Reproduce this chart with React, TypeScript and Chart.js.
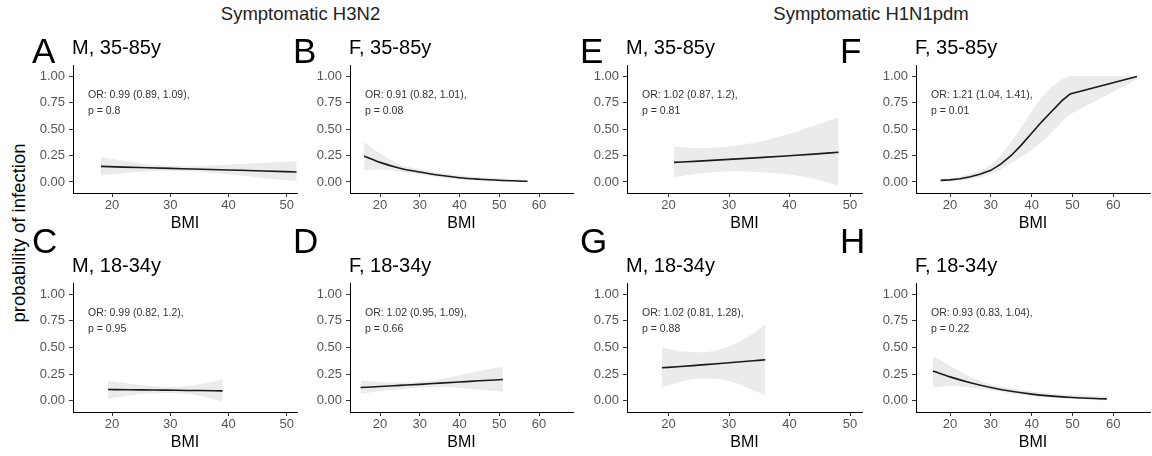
import React, { useEffect, useRef } from 'react';
import { Chart, registerables } from 'chart.js';

Chart.register(...registerables);

const FONT = '"Liberation Sans", Arial, Helvetica, sans-serif';

// ---- tick labels ----
const yTicks = [0, 0.25, 0.5, 0.75, 1];
const xTicksMale = [20, 30, 40, 50];
const xTicksFemale = [20, 30, 40, 50, 60];

// ---- Panel A: H3N2, M, 35-85y ----
const aBmi = [18.1, 22, 26, 30, 34, 40, 46, 51.7];
const aFit = [0.147, 0.14, 0.134, 0.128, 0.122, 0.113, 0.104, 0.094];
const aLow = [0.06, 0.085, 0.1, 0.107, 0.1, 0.072, 0.038, 0.006];
const aHigh = [0.235, 0.2, 0.17, 0.152, 0.148, 0.165, 0.182, 0.195];

// ---- Panel B: H3N2, F, 35-85y ----
const bBmi = [16, 20, 25, 30, 35, 40, 45, 50, 57.1];
const bFit = [0.245, 0.185, 0.13, 0.094, 0.063, 0.04, 0.026, 0.016, 0.007];
const bLow = [0.11, 0.12, 0.1, 0.07, 0.045, 0.024, 0.011, 0.004, 0.0];
const bHigh = [0.38, 0.27, 0.165, 0.12, 0.085, 0.062, 0.046, 0.033, 0.022];

// ---- Panel C: H3N2, M, 18-34y ----
const cBmi = [19.3, 23, 27, 31, 35, 39];
const cFit = [0.107, 0.104, 0.102, 0.099, 0.097, 0.094];
const cLow = [0.02, 0.05, 0.072, 0.075, 0.05, -0.01];
const cHigh = [0.19, 0.16, 0.138, 0.13, 0.155, 0.2];

// ---- Panel D: H3N2, F, 18-34y ----
const dBmi = [15.1, 20, 25, 30, 35, 40, 45, 50.9];
const dFit = [0.125, 0.135, 0.145, 0.155, 0.166, 0.177, 0.188, 0.2];
const dLow = [0.065, 0.09, 0.11, 0.125, 0.13, 0.12, 0.105, 0.085];
const dHigh = [0.19, 0.175, 0.17, 0.18, 0.2, 0.24, 0.28, 0.32];

// ---- Panel E: H1N1pdm, M, 35-85y ----
const eBmi = [20.9, 25, 30, 35, 40, 44, 48.1];
const eFit = [0.185, 0.197, 0.213, 0.23, 0.248, 0.263, 0.28];
const eLow = [0.045, 0.08, 0.1, 0.095, 0.07, 0.03, -0.035];
const eHigh = [0.335, 0.32, 0.335, 0.38, 0.455, 0.53, 0.61];

// ---- Panel F: H1N1pdm, F, 35-85y ----
const fBmi = [17.7, 20, 22.5, 25, 27.5, 30, 32.5, 35, 37.5, 40, 42.5, 45, 47.5, 49.4, 65.8];
const fFit = [0.015, 0.02, 0.03, 0.05, 0.075, 0.11, 0.17, 0.25, 0.35, 0.46, 0.57, 0.67, 0.77, 0.83, 0.995];
const fLow = [0.004, 0.007, 0.013, 0.025, 0.045, 0.075, 0.12, 0.18, 0.24, 0.3, 0.38, 0.47, 0.57, 0.64, 0.97];
const fHigh = [0.03, 0.035, 0.05, 0.08, 0.11, 0.16, 0.25, 0.38, 0.52, 0.67, 0.8, 0.9, 0.97, 1.0, 1.0];

// ---- Panel G: H1N1pdm, M, 18-34y ----
const gBmi = [18.9, 22, 25, 28, 31, 34, 36];
const gFit = [0.31, 0.322, 0.335, 0.348, 0.362, 0.376, 0.385];
const gLow = [0.125, 0.18, 0.21, 0.205, 0.17, 0.1, 0.053];
const gHigh = [0.5, 0.465, 0.455, 0.475, 0.535, 0.63, 0.72];

// ---- Panel H: H1N1pdm, F, 18-34y ----
const hBmi = [15.8, 20, 25, 30, 35, 40, 45, 50, 58.4];
const hFit = [0.28, 0.225, 0.17, 0.125, 0.09, 0.063, 0.045, 0.032, 0.019];
const hLow = [0.125, 0.14, 0.125, 0.1, 0.07, 0.046, 0.03, 0.017, 0.004];
const hHigh = [0.42, 0.33, 0.225, 0.155, 0.115, 0.087, 0.068, 0.055, 0.043];

// ---- axis ranges per column ----
const colXMin = [13.3, 12.45, 13.13, 11.67];
const colXMax = [51.77, 68.55, 51.98, 68.99];
const colXTicks = [xTicksMale, xTicksFemale, xTicksMale, xTicksFemale];
const yMin = -0.104;
const yMax = 1.104;

// ---- layout (pixels) ----
const colLeft = [73, 350, 627, 916];
const colRight = [297, 573, 862, 1150];
const letterLeft = [32, 293, 580, 840];
const rowTop = [65, 283];
const rowBottom = [193, 412];

const superTitles = [
  { text: 'Symptomatic H3N2', cx: 300.5 },
  { text: 'Symptomatic H1N1pdm', cx: 871 },
];

const panels = [
  { letter: 'A', title: 'M, 35-85y', or: 'OR: 0.99 (0.89, 1.09),', p: 'p = 0.8', bmi: aBmi, fit: aFit, low: aLow, high: aHigh, col: 0, row: 0, smooth: true },
  { letter: 'B', title: 'F, 35-85y', or: 'OR: 0.91 (0.82, 1.01),', p: 'p = 0.08', bmi: bBmi, fit: bFit, low: bLow, high: bHigh, col: 1, row: 0, smooth: true },
  { letter: 'E', title: 'M, 35-85y', or: 'OR: 1.02 (0.87, 1.2),', p: 'p = 0.81', bmi: eBmi, fit: eFit, low: eLow, high: eHigh, col: 2, row: 0, smooth: true },
  { letter: 'F', title: 'F, 35-85y', or: 'OR: 1.21 (1.04, 1.41),', p: 'p = 0.01', bmi: fBmi, fit: fFit, low: fLow, high: fHigh, col: 3, row: 0, smooth: false },
  { letter: 'C', title: 'M, 18-34y', or: 'OR: 0.99 (0.82, 1.2),', p: 'p = 0.95', bmi: cBmi, fit: cFit, low: cLow, high: cHigh, col: 0, row: 1, smooth: true },
  { letter: 'D', title: 'F, 18-34y', or: 'OR: 1.02 (0.95, 1.09),', p: 'p = 0.66', bmi: dBmi, fit: dFit, low: dLow, high: dHigh, col: 1, row: 1, smooth: true },
  { letter: 'G', title: 'M, 18-34y', or: 'OR: 1.02 (0.81, 1.28),', p: 'p = 0.88', bmi: gBmi, fit: gFit, low: gLow, high: gHigh, col: 2, row: 1, smooth: true },
  { letter: 'H', title: 'F, 18-34y', or: 'OR: 0.93 (0.83, 1.04),', p: 'p = 0.22', bmi: hBmi, fit: hFit, low: hLow, high: hHigh, col: 3, row: 1, smooth: true },
];

const Y_W = 60;
const PAD_TOP = 10;
const X_H = 40;
const PAD_RIGHT = 2;

function Panel({ p }: { p: any }) {
  const ref = useRef<HTMLCanvasElement>(null);
  const width = colRight[p.col] - colLeft[p.col] + Y_W + PAD_RIGHT;
  const height = rowBottom[p.row] - rowTop[p.row] + PAD_TOP + X_H;
  const left = colLeft[p.col] - Y_W;
  const top = rowTop[p.row] - PAD_TOP;

  useEffect(() => {
    const canvas = ref.current!;
    const interp = p.smooth ? { cubicInterpolationMode: 'monotone' as const } : { tension: 0 };
    const toPts = (ys: number[]) => p.bmi.map((x: number, i: number) => ({ x, y: ys[i] }));
    const orPlugin = {
      id: 'orText',
      afterDraw(chart: any) {
        const { ctx, chartArea } = chart;
        const yTop = chart.scales.y.getPixelForValue(1);
        ctx.save();
        ctx.fillStyle = '#333';
        ctx.font = `10.5px ${FONT}`;
        ctx.textAlign = 'left';
        ctx.textBaseline = 'middle';
        ctx.fillText(p.or, chartArea.left + 15, yTop + 19);
        ctx.fillText(p.p, chartArea.left + 15, yTop + 35);
        ctx.restore();
      },
    };
    const chart = new Chart(canvas, {
      type: 'line',
      data: {
        datasets: [
          {
            data: toPts(p.fit),
            borderColor: '#1a1a1a',
            borderWidth: 1.6,
            pointRadius: 0,
            fill: false,
            ...interp,
          },
          {
            data: toPts(p.high),
            borderColor: 'transparent',
            borderWidth: 0,
            pointRadius: 0,
            backgroundColor: '#EBEBEB',
            fill: '+1',
            ...interp,
          },
          {
            data: toPts(p.low),
            borderColor: 'transparent',
            borderWidth: 0,
            pointRadius: 0,
            fill: false,
            ...interp,
          },
        ],
      },
      options: {
        animation: false,
        responsive: false,
        maintainAspectRatio: false,
        events: [],
        layout: { padding: { top: PAD_TOP, right: PAD_RIGHT, left: 0, bottom: 0 } },
        plugins: {
          legend: { display: false },
          tooltip: { enabled: false },
          title: { display: false },
        },
        scales: {
          x: {
            type: 'linear',
            min: colXMin[p.col],
            max: colXMax[p.col],
            afterBuildTicks: (s: any) => {
              s.ticks = colXTicks[p.col].map((v) => ({ value: v }));
            },
            afterFit: (s: any) => {
              s.height = X_H;
              s.paddingLeft = 0;
              s.paddingRight = 0;
            },
            ticks: {
              autoSkip: false,
              maxRotation: 0,
              padding: 1,
              color: '#555',
              font: { family: FONT, size: 13 },
              callback: (v: any) => String(v),
            },
            grid: { drawOnChartArea: false, drawTicks: true, tickLength: 4, color: '#333', lineWidth: 1 },
            border: { display: true, color: '#000', width: 1 },
            title: {
              display: true,
              text: 'BMI',
              color: '#000',
              font: { family: FONT, size: 16, lineHeight: 1.2 },
              padding: { top: 0, bottom: 0 },
            },
          },
          y: {
            type: 'linear',
            min: yMin,
            max: yMax,
            afterBuildTicks: (s: any) => {
              s.ticks = yTicks.map((v) => ({ value: v }));
            },
            afterFit: (s: any) => {
              s.width = Y_W;
              s.paddingTop = 0;
              s.paddingBottom = 0;
            },
            ticks: {
              autoSkip: false,
              padding: 4,
              color: '#555',
              font: { family: FONT, size: 13 },
              callback: (v: any) => Number(v).toFixed(2),
            },
            grid: { drawOnChartArea: false, drawTicks: true, tickLength: 4, color: '#333', lineWidth: 1 },
            border: { display: true, color: '#000', width: 1 },
          },
        },
      },
      plugins: [orPlugin],
    });
    return () => chart.destroy();
  }, []);

  return (
    <>
      <canvas
        ref={ref}
        width={width}
        height={height}
        style={{ position: 'absolute', left, top, width, height }}
      />
      <div
        style={{
          position: 'absolute',
          left: letterLeft[p.col],
          top: [33.3, 223.3][p.row],
          fontFamily: FONT,
          fontSize: 35,
          lineHeight: '35px',
          color: '#000',
          whiteSpace: 'nowrap',
        }}
      >
        {p.letter}
      </div>
      <div
        style={{
          position: 'absolute',
          left: colLeft[p.col] - 1,
          top: [37, 255][p.row],
          fontFamily: FONT,
          fontSize: 20,
          lineHeight: '20px',
          color: '#000',
          whiteSpace: 'nowrap',
        }}
      >
        {p.title}
      </div>
    </>
  );
}

export default function App() {
  return (
    <div
      style={{
        position: 'absolute',
        left: 0,
        top: 0,
        width: 1152,
        height: 456,
        overflow: 'hidden',
        background: '#fff',
      }}
    >
      {superTitles.map((t) => (
        <div
          key={t.text}
          style={{
            position: 'absolute',
            left: t.cx - 200,
            width: 400,
            top: 5,
            textAlign: 'center',
            fontFamily: FONT,
            fontSize: 18.5,
            lineHeight: '18.5px',
            color: '#222',
            whiteSpace: 'nowrap',
          }}
        >
          {t.text}
        </div>
      ))}
      <div
        style={{
          position: 'absolute',
          left: 18.5,
          top: 233,
          transform: 'translate(-50%, -50%) rotate(-90deg)',
          fontFamily: FONT,
          fontSize: 18.5,
          lineHeight: '18.5px',
          color: '#000',
          whiteSpace: 'nowrap',
        }}
      >
        probability of infection
      </div>
      {panels.map((p) => (
        <Panel key={p.letter} p={p} />
      ))}
    </div>
  );
}
